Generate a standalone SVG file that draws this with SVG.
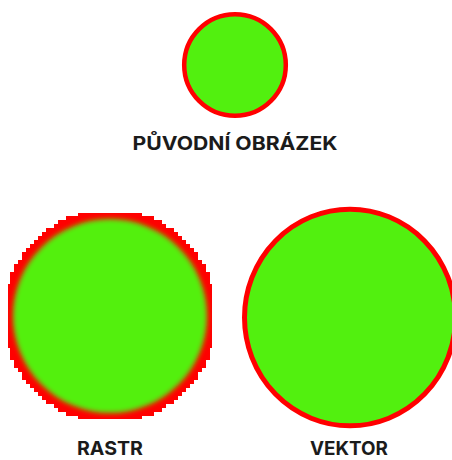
<svg xmlns="http://www.w3.org/2000/svg" width="452" height="460" viewBox="0 0 452 460">
  <style>
    .label { font-family: Inter, "Open Sans", "Liberation Sans", sans-serif; font-weight: 700; font-size: 19px; fill: #1b1b1b; text-anchor: middle; }
    .fillg { fill: #52f00f; }
    .ring { fill: #52f00f; stroke: #ff0000; }
  </style>
  <defs>
    <filter id="soft" x="-10%" y="-10%" width="120%" height="120%">
      <feGaussianBlur stdDeviation="2.8"/>
    </filter>
  </defs>

  <!-- original image: smooth circle -->
  <g id="original">
    <circle class="ring" cx="235" cy="65" r="50.8" stroke-width="4.5"/>
    <text class="label" x="235" y="150" textLength="205" lengthAdjust="spacingAndGlyphs">PŮVODNÍ OBRÁZEK</text>
  </g>

  <!-- raster version: pixel staircase edge with soft interior -->
  <g id="raster">
    <path fill="#ff0000" d="M78,213 H142 V216 H154 V220 H162 V224 H166 V228 H174 V232 H178 V236 H182 V240 H186 V244 H190 V248 H194 V252 H198 V260 H202 V264 H206 V272 H210 V284 H212 V348 H210 V360 H206 V368 H202 V372 H198 V380 H194 V384 H190 V388 H186 V392 H182 V396 H178 V400 H174 V404 H166 V408 H162 V412 H154 V416 H142 V419 H78 V416 H66 V412 H58 V408 H54 V404 H46 V400 H42 V396 H38 V392 H34 V388 H30 V384 H26 V380 H22 V372 H18 V368 H14 V360 H10 V348 H8 V284 H10 V272 H14 V264 H18 V260 H22 V252 H26 V248 H30 V244 H34 V240 H38 V236 H42 V232 H46 V228 H54 V224 H58 V220 H66 V216 H78 Z"/>
    <circle class="fillg" cx="110" cy="316" r="97" filter="url(#soft)"/>
    <text class="label" x="110" y="455" textLength="66" lengthAdjust="spacingAndGlyphs">RASTR</text>
  </g>

  <!-- vector version: clean outline -->
  <g id="vector">
    <ellipse class="ring" cx="350" cy="317.5" rx="105.5" ry="108.3" stroke-width="5"/>
    <text class="label" x="349" y="455" textLength="78" lengthAdjust="spacingAndGlyphs">VEKTOR</text>
  </g>

  <g id="connectors"/>
</svg>
